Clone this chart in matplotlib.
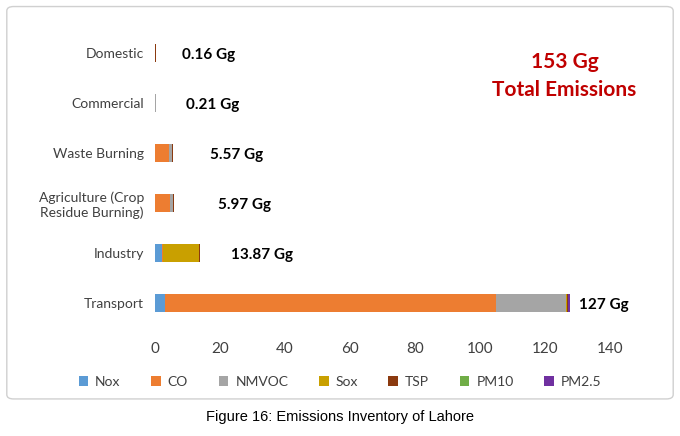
import matplotlib
matplotlib.use("Agg")
import matplotlib.pyplot as plt
from matplotlib.patches import FancyBboxPatch

categories = ["Transport", "Industry", "Agriculture (Crop\nResidue Burning)", "Waste Burning", "Commercial", "Domestic"]
series = ["Nox", "CO", "NMVOC", "Sox", "TSP", "PM10", "PM2.5"]
nox   = [3.0, 2.2, 0.1, 0.1, 0.02, 0.02]
co    = [102.0, 0.1, 4.5, 4.2, 0.1, 0.08]
nmvoc = [21.5, 0.1, 0.9, 0.8, 0.05, 0.03]
sox   = [0.3, 11.2, 0.1, 0.1, 0.01, 0.01]
tsp   = [0.2, 0.1, 0.2, 0.2, 0.01, 0.01]
pm10  = [0.2, 0.1, 0.1, 0.1, 0.01, 0.005]
pm25  = [0.5, 0.07, 0.07, 0.07, 0.01, 0.005]
labels = ["127 Gg", "13.87 Gg", "5.97 Gg", "5.57 Gg", "0.21 Gg", "0.16 Gg"]
label_x = [130.5, 23.4, 19.4, 17.0, 9.5, 8.3]
colors = ["#5B9BD5", "#ED7D31", "#A5A5A5", "#C9A000", "#8B3A0F", "#70AD47", "#7030A0"]

plt.rcParams['font.family'] = ['Lato', 'DejaVu Sans']
fig = plt.figure(figsize=(6.8, 4.36), dpi=100)
fig.patches.append(FancyBboxPatch((0.01, 0.085), 0.98, 0.9, boxstyle="round,pad=0,rounding_size=0.01",
                                  transform=fig.transFigure, fc="white", ec="#D0D0D0", lw=1, zorder=-10))
ax = fig.add_axes([0.228, 0.248, 0.669, 0.688])
ax.set_facecolor("none")
data = [nox, co, nmvoc, sox, tsp, pm10, pm25]
y = list(range(len(categories)))
left = [0.0] * len(categories)
for name, vals, c in zip(series, data, colors):
    ax.barh(y, vals, left=left, height=0.36, color=c, label=name)
    left = [l + v for l, v in zip(left, vals)]
for yi, (lx, t) in enumerate(zip(label_x, labels)):
    ax.text(lx, yi - 0.05, t, fontsize=11, fontweight="bold", va="center", ha="left")
ax.set_yticks(y)
ax.set_yticklabels(categories, fontsize=10, color="#404040")
ax.set_xlim(0, 140)
ax.set_ylim(-0.5, 5.5)
ax.set_xticks(range(0, 141, 20))
ax.tick_params(axis="x", labelsize=11, colors="#404040", length=0, pad=10)
ax.tick_params(axis="y", length=0, pad=8)
for s in ax.spines.values():
    s.set_visible(False)
ax.text(0.90, 0.92, "153 Gg\nTotal Emissions", transform=ax.transAxes,
        ha="center", va="top", fontsize=15, fontweight="bold", color="#C00000", linespacing=1.5)
fig.legend(loc="center", bbox_to_anchor=(0.5, 0.125), ncol=7, frameon=False, fontsize=10,
           handlelength=0.7, handleheight=0.7, columnspacing=2.2, handletextpad=0.5,
           labelcolor="#404040")
fig.text(0.5, 0.043, "Figure 16: Emissions Inventory of Lahore", ha="center", va="center",
         fontsize=10.5, family=["Liberation Sans", "DejaVu Sans"])
fig.savefig("out.png", dpi=100)
